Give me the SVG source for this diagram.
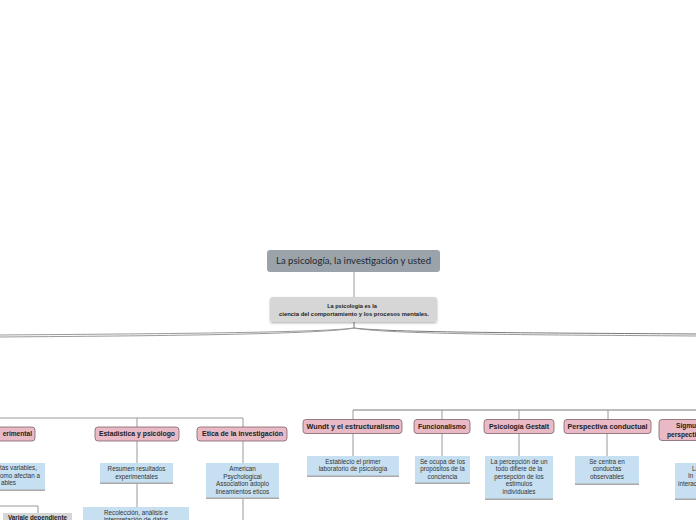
<svg xmlns="http://www.w3.org/2000/svg" width="696" height="520" viewBox="0 0 696 520">
<style>
.bg{fill:#ffffff}
.ln{fill:none;stroke:#9a9a9a;stroke-width:1}
.ln2{fill:none;stroke:#7a7a7a;stroke-width:1}
.pk{fill:#e9bac5;stroke:#7d6268;stroke-width:0.8}
.pt{font-family:"Liberation Sans",Arial,sans-serif;font-size:6.6px;font-weight:bold;fill:#222;text-anchor:middle}
.bl{fill:#c6e0f2}
.bb{fill:none;stroke:#a9a9a9;stroke-width:1.4}
.bt{font-family:"Liberation Sans",Arial,sans-serif;font-size:6.3px;fill:#333;text-anchor:middle}
.gr{fill:#d6d6d6}
</style>
<defs>
<filter id="sh" x="-10%" y="-20%" width="120%" height="160%">
<feDropShadow dx="0" dy="1.2" stdDeviation="0.8" flood-color="#000" flood-opacity="0.3"/>
</filter>
</defs>
<rect class="bg" x="0" y="0" width="696" height="520"/>

<g id="connectors">
<line class="ln" x1="354" y1="272" x2="354" y2="297"/>
<path class="ln2" d="M354,322 V328"/>
<path class="ln" d="M354,328 C320,333 120,334 0,335"/>
<path class="ln" d="M354,328 C320,335 120,336 0,337"/>
<path class="ln2" d="M354,328 C390,333 580,333 696,334"/>
<path class="ln" d="M354,328 C390,335 580,335 696,336"/>
<path class="ln" d="M0,418 H243 V427"/>
<line class="ln" x1="137" y1="418" x2="137" y2="427"/>
<line class="ln" x1="137" y1="441" x2="137" y2="463"/>
<line class="ln" x1="137" y1="483" x2="137" y2="507"/>
<line class="ln" x1="243" y1="441" x2="243" y2="463"/>
<line class="ln" x1="243" y1="498" x2="243" y2="520"/>
<path class="ln" d="M0,506 H38 V513"/>
<path class="ln2" d="M353,410 H696"/>
<line class="ln" x1="353" y1="410" x2="353" y2="420"/>
<line class="ln" x1="442" y1="410" x2="442" y2="420"/>
<line class="ln" x1="519" y1="410" x2="519" y2="420"/>
<line class="ln" x1="608" y1="410" x2="608" y2="420"/>
<line class="ln" x1="353" y1="433" x2="353" y2="456"/>
<line class="ln" x1="442" y1="433" x2="442" y2="456"/>
<line class="ln" x1="519" y1="433" x2="519" y2="456"/>
<line class="ln" x1="607" y1="433" x2="607" y2="456"/>
</g>

<g id="root">
<rect x="267" y="250" width="173" height="22" rx="3" fill="#9aa2aa"/>
<text x="353.5" y="264" font-family="Lato,'Noto Sans',sans-serif" font-size="8.5" fill="#1e2830" text-anchor="middle" textLength="155" lengthAdjust="spacingAndGlyphs">La psicología, la investigación y usted</text>
</g>

<g id="definicion">
<rect x="270" y="297" width="167" height="25" rx="3" class="gr" filter="url(#sh)"/>
<text x="352" y="308" font-family="'Liberation Sans',Arial,sans-serif" font-size="5.6" font-weight="bold" fill="#222" text-anchor="middle">La psicología es la</text>
<text x="354" y="315.5" font-family="'Liberation Sans',Arial,sans-serif" font-size="5.6" font-weight="bold" fill="#222" text-anchor="middle" textLength="150" lengthAdjust="spacingAndGlyphs">ciencia del comportamiento y los procesos mentales.</text>
</g>

<g id="experimental">
<rect class="pk" x="-40" y="427" width="75" height="14" rx="3"/>
<text class="pt" x="32" y="436.3" text-anchor="end" style="text-anchor:end">erimental</text>
</g>

<g id="estadistica">
<rect class="pk" x="95" y="427" width="84" height="14" rx="3"/>
<text class="pt" x="137" y="436.3" textLength="76" lengthAdjust="spacingAndGlyphs">Estadística y psicólogo</text>
</g>

<g id="etica">
<rect class="pk" x="197" y="427" width="90" height="14" rx="3"/>
<text class="pt" x="242.5" y="436.3" textLength="81" lengthAdjust="spacingAndGlyphs">Etica de la investigación</text>
</g>

<g id="wundt">
<rect class="pk" x="303" y="419.5" width="99" height="14" rx="3"/>
<text class="pt" x="353" y="428.6" textLength="93" lengthAdjust="spacingAndGlyphs">Wundt y el estructuralismo</text>
</g>

<g id="funcionalismo">
<rect class="pk" x="414" y="419.5" width="56" height="14" rx="3"/>
<text class="pt" x="442" y="428.6" textLength="48" lengthAdjust="spacingAndGlyphs">Funcionalismo</text>
</g>

<g id="gestalt">
<rect class="pk" x="484" y="419.5" width="70" height="14" rx="3"/>
<text class="pt" x="519" y="428.6" textLength="60" lengthAdjust="spacingAndGlyphs">Psicología Gestalt</text>
</g>

<g id="conductual">
<rect class="pk" x="564" y="419.5" width="87" height="14" rx="3"/>
<text class="pt" x="607.5" y="428.6" textLength="80" lengthAdjust="spacingAndGlyphs">Perspectiva conductual</text>
</g>

<g id="sigmund">
<rect class="pk" x="659" y="419.5" width="90" height="21" rx="3"/>
<text class="pt" x="676" y="428" style="text-anchor:start">Sigmund</text>
<text class="pt" x="667" y="436.5" style="text-anchor:start">perspectiva</text>
</g>

<g id="variables">
<rect class="bl" x="-40" y="463" width="85" height="27"/>
<line class="bb" x1="-40" y1="490.3" x2="45" y2="490.3"/>
<text class="bt" x="37" y="470" style="text-anchor:end">tas variables,</text>
<text class="bt" x="40" y="477.5" style="text-anchor:end">omo afectan a</text>
<text class="bt" x="16" y="485" style="text-anchor:end">ables</text>
</g>

<g id="dependiente">
<rect x="3" y="513" width="69" height="12" fill="#d6d6d6"/>
<text x="37.5" y="520" font-family="'Liberation Sans',Arial,sans-serif" font-size="6.3" font-weight="bold" fill="#222" text-anchor="middle">Variale dependiente</text>
</g>

<g id="resumen">
<rect class="bl" x="100" y="463" width="73" height="20"/>
<line class="bb" x1="100" y1="483.3" x2="173" y2="483.3"/>
<text class="bt" x="136.5" y="471">Resumen resultados</text>
<text class="bt" x="136.5" y="478.5">experimentales</text>
</g>

<g id="recoleccion">
<rect class="bl" x="83" y="507" width="106" height="16"/>
<text class="bt" x="136" y="514.5">Recolección, análisis e</text>
<text class="bt" x="136" y="521.5">interpretación de datos</text>
</g>

<g id="american">
<rect class="bl" x="206" y="463" width="73" height="35"/>
<line class="bb" x1="206" y1="498.3" x2="279" y2="498.3"/>
<text class="bt" x="242.5" y="471">American</text>
<text class="bt" x="242.5" y="478.5">Psychological</text>
<text class="bt" x="242.5" y="486">Association adoplo</text>
<text class="bt" x="242.5" y="493.5">lineamientos eticos</text>
</g>

<g id="laboratorio">
<rect class="bl" x="307" y="456" width="92" height="20"/>
<line class="bb" x1="307" y1="476.3" x2="399" y2="476.3"/>
<text class="bt" x="353" y="463.5">Establecio el primer</text>
<text class="bt" x="353" y="471">laboratorio de psicología</text>
</g>

<g id="propositos">
<rect class="bl" x="415" y="456" width="55" height="27"/>
<line class="bb" x1="415" y1="483.3" x2="470" y2="483.3"/>
<text class="bt" x="442.5" y="463.5">Se ocupa de los</text>
<text class="bt" x="442.5" y="471">propósitos de la</text>
<text class="bt" x="442.5" y="478.5">conciencia</text>
</g>

<g id="percepcion">
<rect class="bl" x="485" y="456" width="68" height="43"/>
<line class="bb" x1="485" y1="499.3" x2="553" y2="499.3"/>
<text class="bt" x="519" y="463.5">La percepción de un</text>
<text class="bt" x="519" y="471">todo difiere de la</text>
<text class="bt" x="519" y="478.5">persepción de los</text>
<text class="bt" x="519" y="486">estimulos</text>
<text class="bt" x="519" y="493.5">individuales</text>
</g>

<g id="observables">
<rect class="bl" x="575" y="456" width="64" height="28"/>
<line class="bb" x1="575" y1="484.3" x2="639" y2="484.3"/>
<text class="bt" x="607" y="463.5">Se centra en</text>
<text class="bt" x="607" y="471">conductas</text>
<text class="bt" x="607" y="478.5">observables</text>
</g>

<g id="psicodinamica">
<rect class="bl" x="675" y="463" width="40" height="36"/>
<line class="bb" x1="675" y1="499.3" x2="715" y2="499.3"/>
<text class="bt" x="692" y="470.5" style="text-anchor:start">La</text>
<text class="bt" x="688" y="478" style="text-anchor:start">In</text>
<text class="bt" x="678" y="485.5" style="text-anchor:start">interacción</text>
</g>
</svg>
